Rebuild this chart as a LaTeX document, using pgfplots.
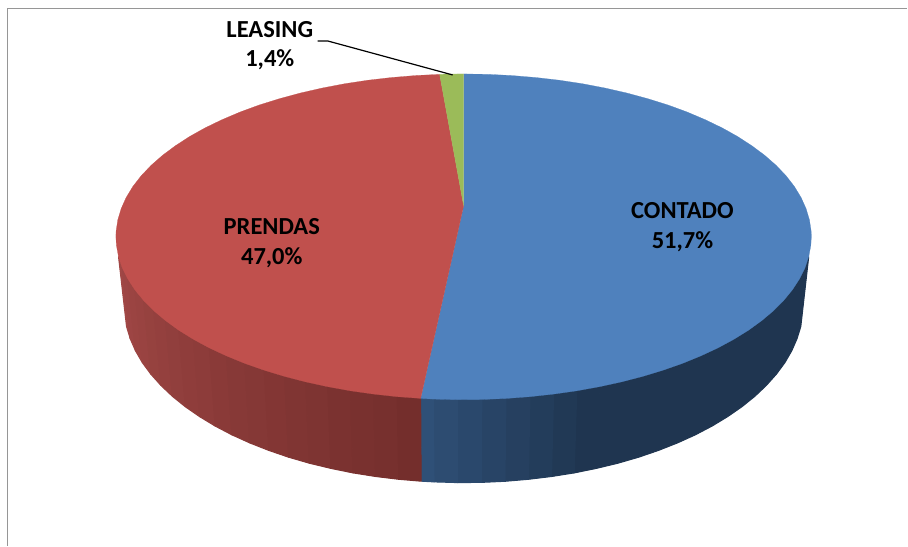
\documentclass[border=0pt]{standalone}
\usepackage{fontspec}
\setmainfont{Carlito}
\usepackage{pgfplots}
\pgfplotsset{compat=1.18}
\definecolor{pieBlue}{RGB}{79,129,189}
\definecolor{pieRed}{RGB}{192,80,77}
\definecolor{pieGreen}{RGB}{155,187,89}
\definecolor{sideBlueDark}{RGB}{31,53,80}
\definecolor{sideBlueLight}{RGB}{47,80,119}
\definecolor{sideRedDark}{RGB}{116,46,44}
\definecolor{sideRedLight}{RGB}{160,71,69}
\definecolor{frameGray}{RGB}{150,150,150}
\tikzset{lbl/.style={font=\fontsize{24.5}{26}\selectfont\bfseries,text=black,inner sep=0pt}}

\begin{document}
\begin{tikzpicture}
\begin{axis}[
  scale only axis,width=908pt,height=546pt,
  xmin=0,xmax=908,ymin=0,ymax=546,y dir=reverse,
  hide axis,clip=false,
  sd/.style={fill=#1,draw=#1,line width=1pt,line join=round,forget plot,no markers},
  top/.style={fill=#1,draw=#1,line width=.2pt,forget plot,no markers},
]
\path (axis cs:0,0) rectangle (axis cs:908,546);
% frame
\addplot[frameGray,line width=1.5pt,no markers,forget plot] coordinates {(7.5,546) (7.5,8.5) (908,8.5)};

% side, blue
\addplot[sd=sideBlueDark] coordinates {(809.4,256.9) (805.6,268.1) (800.1,279.2) (793.0,290.1) (784.3,300.7) (774.1,311.0) (762.3,320.9) (749.1,330.5) (734.4,339.6) (718.5,348.2) (701.3,356.2) (683.0,363.7) (663.6,370.5) (643.2,376.7) (622.0,382.2) (600.0,387.0) (596.8,468.8) (618.4,463.6) (639.1,457.6) (659.0,450.8) (678.0,443.3) (695.9,435.2) (712.7,426.4) (728.2,417.0) (742.5,407.1) (755.4,396.7) (766.9,385.8) (777.0,374.5) (785.5,363.0) (792.4,351.1) (797.7,339.0) (801.5,326.7)} -- cycle;
\addplot[sd=sideBlueLight!0!sideBlueDark] coordinates {(600.0,387.0) (577.3,391.1) (574.7,473.3) (596.8,468.8)} -- cycle;
\addplot[sd=sideBlueLight!14!sideBlueDark] coordinates {(577.3,391.1) (554.1,394.4) (552.0,476.9) (574.7,473.3)} -- cycle;
\addplot[sd=sideBlueLight!28!sideBlueDark] coordinates {(554.1,394.4) (530.4,397.0) (528.9,479.7) (552.0,476.9)} -- cycle;
\addplot[sd=sideBlueLight!42!sideBlueDark] coordinates {(530.4,397.0) (506.4,398.8) (505.4,481.7) (528.9,479.7)} -- cycle;
\addplot[sd=sideBlueLight!57!sideBlueDark] coordinates {(506.4,398.8) (482.2,399.8) (481.8,482.8) (505.4,481.7)} -- cycle;
\addplot[sd=sideBlueLight!71!sideBlueDark] coordinates {(482.2,399.8) (457.9,400.0) (458.1,483.0) (481.8,482.8)} -- cycle;
\addplot[sd=sideBlueLight!85!sideBlueDark] coordinates {(457.9,400.0) (433.7,399.4) (434.4,482.3) (458.1,483.0)} -- cycle;
\addplot[sd=sideBlueLight] coordinates {(433.7,399.4) (421.0,398.7) (422.0,481.6) (434.4,482.3)} -- cycle;

% side, red
\addplot[sd=sideRedLight] coordinates {(122.4,268.1) (118.6,256.9) (126.6,326.7) (130.3,339.0)} -- cycle;
\addplot[sd=sideRedLight!94!sideRedDark] coordinates {(127.9,279.2) (122.4,268.1) (130.3,339.0) (135.6,351.1)} -- cycle;
\addplot[sd=sideRedLight!89!sideRedDark] coordinates {(135.0,290.1) (127.9,279.2) (135.6,351.1) (142.5,363.0)} -- cycle;
\addplot[sd=sideRedLight!83!sideRedDark] coordinates {(143.7,300.7) (135.0,290.1) (142.5,363.0) (151.0,374.5)} -- cycle;
\addplot[sd=sideRedLight!78!sideRedDark] coordinates {(153.9,311.0) (143.7,300.7) (151.0,374.5) (161.1,385.8)} -- cycle;
\addplot[sd=sideRedLight!72!sideRedDark] coordinates {(165.7,320.9) (153.9,311.0) (161.1,385.8) (172.6,396.7)} -- cycle;
\addplot[sd=sideRedLight!67!sideRedDark] coordinates {(178.9,330.5) (165.7,320.9) (172.6,396.7) (185.5,407.1)} -- cycle;
\addplot[sd=sideRedLight!61!sideRedDark] coordinates {(193.6,339.6) (178.9,330.5) (185.5,407.1) (199.8,417.0)} -- cycle;
\addplot[sd=sideRedLight!56!sideRedDark] coordinates {(209.5,348.2) (193.6,339.6) (199.8,417.0) (215.3,426.4)} -- cycle;
\addplot[sd=sideRedLight!50!sideRedDark] coordinates {(226.7,356.2) (209.5,348.2) (215.3,426.4) (232.1,435.2)} -- cycle;
\addplot[sd=sideRedLight!44!sideRedDark] coordinates {(245.0,363.7) (226.7,356.2) (232.1,435.2) (250.0,443.3)} -- cycle;
\addplot[sd=sideRedLight!39!sideRedDark] coordinates {(264.4,370.5) (245.0,363.7) (250.0,443.3) (269.0,450.8)} -- cycle;
\addplot[sd=sideRedLight!33!sideRedDark] coordinates {(284.8,376.7) (264.4,370.5) (269.0,450.8) (288.9,457.6)} -- cycle;
\addplot[sd=sideRedLight!28!sideRedDark] coordinates {(306.0,382.2) (284.8,376.7) (288.9,457.6) (309.6,463.6)} -- cycle;
\addplot[sd=sideRedLight!22!sideRedDark] coordinates {(328.0,387.0) (306.0,382.2) (309.6,463.6) (331.2,468.8)} -- cycle;
\addplot[sd=sideRedLight!17!sideRedDark] coordinates {(350.7,391.1) (328.0,387.0) (331.2,468.8) (353.3,473.3)} -- cycle;
\addplot[sd=sideRedLight!11!sideRedDark] coordinates {(373.9,394.4) (350.7,391.1) (353.3,473.3) (376.0,476.9)} -- cycle;
\addplot[sd=sideRedLight!6!sideRedDark] coordinates {(397.6,397.0) (373.9,394.4) (376.0,476.9) (399.1,479.7)} -- cycle;
\addplot[sd=sideRedDark] coordinates {(421.0,398.7) (397.6,397.0) (399.1,479.7) (421.5,481.6)} -- cycle;

% top face
\addplot[top=pieBlue] coordinates {(464,206) (464,74) (488.3,74.4) (512.4,75.6) (536.4,77.6) (559.9,80.3) (583.0,83.8) (605.5,88.1) (627.4,93.1) (648.4,98.8) (668.6,105.1) (687.7,112.1) (705.8,119.8) (722.6,127.9) (738.2,136.6) (752.5,145.9) (765.4,155.5) (776.8,165.5) (786.7,175.9) (795.0,186.6) (801.7,197.6) (806.7,208.7) (810.1,220.0) (811.8,231.3) (812,237) (811.5,245.5) (809.4,256.9) (805.6,268.1) (800.1,279.2) (793.0,290.1) (784.3,300.7) (774.1,311.0) (762.3,320.9) (749.1,330.5) (734.4,339.6) (718.5,348.2) (701.3,356.2) (683.0,363.7) (663.6,370.5) (643.2,376.7) (622.0,382.2) (600.0,387.0) (577.3,391.1) (554.1,394.4) (530.4,397.0) (506.4,398.8) (482.2,399.8) (457.9,400.0) (433.7,399.4) (421.0,398.7)} -- cycle;
\addplot[top=pieRed] coordinates {(464,206) (421.0,398.7) (397.6,397.0) (373.9,394.4) (350.7,391.1) (328.0,387.0) (306.0,382.2) (284.8,376.7) (264.4,370.5) (245.0,363.7) (226.7,356.2) (209.5,348.2) (193.6,339.6) (178.9,330.5) (165.7,320.9) (153.9,311.0) (143.7,300.7) (135.0,290.1) (127.9,279.2) (122.4,268.1) (118.6,256.9) (116.5,245.5) (116,237) (116.2,231.3) (117.9,220.0) (121.3,208.7) (126.3,197.6) (133.0,186.6) (141.3,175.9) (151.2,165.5) (162.6,155.5) (175.5,145.9) (189.8,136.6) (205.4,127.9) (222.2,119.8) (240.3,112.1) (259.4,105.1) (279.6,98.8) (300.6,93.1) (322.5,88.1) (345.0,83.8) (368.1,80.3) (391.6,77.6) (415.6,75.6) (440,74.4)} -- cycle;
\addplot[top=pieGreen] coordinates {(464,206) (440,74.4) (452,74.1) (464,74)} -- cycle;

% leader
\addplot[black,line width=1.2pt,no markers,forget plot] coordinates {(318,41) (328,41) (453,75)};

\node[lbl] at (axis cs:683,211) {CONTADO};
\node[lbl] at (axis cs:683,242) {51,7\%};
\node[lbl] at (axis cs:272,227) {PRENDAS};
\node[lbl] at (axis cs:272,258) {47,0\%};
\node[lbl] at (axis cs:270,30) {LEASING};
\node[lbl] at (axis cs:270,60) {1,4\%};
\end{axis}
\end{tikzpicture}
\end{document}
